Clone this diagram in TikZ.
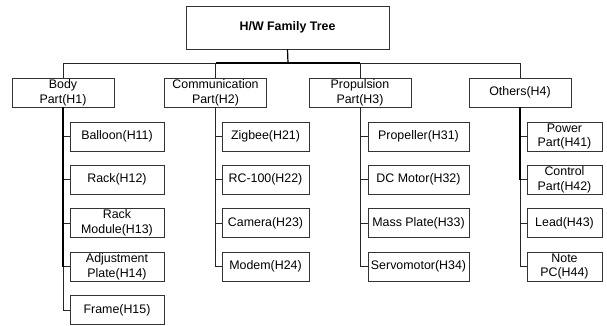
\documentclass[tikz,border=0pt]{standalone}
\usepackage{fontspec}
\setmainfont{Liberation Sans}
\begin{document}
\begin{tikzpicture}[x=1pt,y=-1pt,
  box/.style={draw=black!80,line width=0.8pt,inner sep=0pt,align=center,
    font=\fontsize{12.4}{14.8}\selectfont,minimum height=29pt},
  lone/.style={box,minimum width=102pt},
  ltwo/.style={box,minimum width=#1},
  conn/.style={draw=black!85,line width=0.6pt},
  thick conn/.style={draw=black,line width=1.2pt}]
\useasboundingbox (0,0) rectangle (607,326);
\node[box,minimum width=203pt,minimum height=43pt,font=\fontsize{12.4}{14}\selectfont\bfseries] (top) at (287.5,27.5) {H/W Family Tree};
\coordinate (bus) at (288,63);
\node[lone] (h1) at (63,92.5) {Body\\Part(H1)};
\node[lone] (h2) at (215.5,92.5) {Communication\\Part(H2)};
\node[lone] (h3) at (360,92.5) {Propulsion\\Part(H3)};
\node[lone] (h4) at (520,92.5) {Others(H4)};
% level 2
\node[ltwo=94pt] (h11) at (117,136.5) {Balloon(H11)};
\node[ltwo=94pt] (h12) at (117,179.5) {Rack(H12)};
\node[ltwo=94pt] (h13) at (117,223) {Rack\\Module(H13)};
\node[ltwo=94pt] (h14) at (117,266.5) {Adjustment\\Plate(H14)};
\node[ltwo=94pt] (h15) at (117,310) {Frame(H15)};
\node[ltwo=87pt] (h21) at (265.5,136.5) {Zigbee(H21)};
\node[ltwo=87pt] (h22) at (265.5,179.5) {RC-100(H22)};
\node[ltwo=87pt] (h23) at (265.5,223) {Camera(H23)};
\node[ltwo=87pt] (h24) at (265.5,266.5) {Modem(H24)};
\node[ltwo=101pt] (h31) at (418.5,136.5) {Propeller(H31)};
\node[ltwo=101pt] (h32) at (418.5,179.5) {DC Motor(H32)};
\node[ltwo=101pt] (h33) at (418.5,223) {Mass Plate(H33)};
\node[ltwo=101pt] (h34) at (418.5,266.5) {Servomotor(H34)};
\node[ltwo=75pt] (h41) at (564.5,136.5) {Power\\Part(H41)};
\node[ltwo=75pt] (h42) at (564.5,179.5) {Control\\Part(H42)};
\node[ltwo=75pt] (h43) at (564.5,223) {Lead(H43)};
\node[ltwo=75pt] (h44) at (564.5,266.5) {Note\\PC(H44)};
% bus
\draw[thick conn] (top.south) -- (bus);
\draw[conn] (bus) -| (h1.north);
\draw[conn] (bus) -| (h4.north);
\draw[thick conn] (h2.north |- bus) -- (h3.north |- bus);
\draw[conn] (h2.north |- bus) -- (h2.north);
\draw[conn] (h3.north |- bus) -- (h3.north);
% children
\foreach \c in {h11,h12,h13,h14,h15} \draw[conn] (h1.south) |- (\c.west);
\draw[thick conn] (h1.south) -- (h1.south |- h14.west);
\foreach \c in {h21,h22,h23,h24} \draw[conn] (h2.south) |- (\c.west);
\foreach \c in {h31,h32,h33,h34} \draw[conn] (h3.south) |- (\c.west);
\foreach \c in {h41,h42,h43,h44} \draw[conn] (h4.south) |- (\c.west);
\draw[thick conn] (h4.south) -- (h4.south |- h42.west);
\end{tikzpicture}
\end{document}
